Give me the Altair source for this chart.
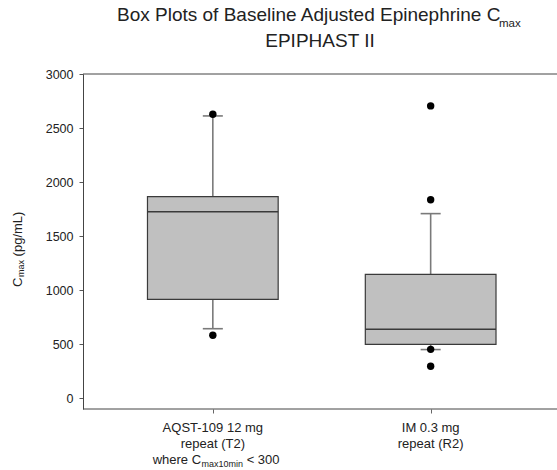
import altair as alt
import pandas as pd

# ---- data ----
groups = ["AQST-109 12 mg", "IM 0.3 mg"]
label_line2 = ["repeat (T2)", "repeat (R2)"]
positions = [1, 2]
q1 = [914, 498]
median = [1726, 637]
q3 = [1865, 1145]
whisker_low = [643, 450]
whisker_high = [2612, 1708]
outlier_pos = [1, 1, 2, 2, 2, 2]
outlier_value = [2628, 582, 2705, 1837, 452, 295]
y_ticks = [0, 500, 1000, 1500, 2000, 2500, 3000]
y_range = [-100, 3000]

box_df = pd.DataFrame({
    "group": groups, "line2": label_line2, "pos": positions,
    "q1": q1, "median": median, "q3": q3,
    "wl": whisker_low, "wh": whisker_high,
})
out_df = pd.DataFrame({"pos": outlier_pos, "value": outlier_value})
frame_df = pd.DataFrame({"v": [y_range[0], y_ticks[-1]]})

FONT = "Liberation Sans"
HALF_BOX = 0.3
HALF_CAP = 0.046

x_scale = alt.Scale(domain=[0.404, 2.58], nice=False, zero=False)
y_scale = alt.Scale(domain=y_range, nice=False, zero=False)

x_axis = alt.Axis(values=positions, labels=False, ticks=True, tickSize=4, tickWidth=1,
                  tickColor="#666", domain=False, grid=False, title=None)
y_axis = alt.Axis(values=y_ticks, format="d", tickSize=4, tickColor="#555", domainColor="#444",
                  labelFont=FONT, labelFontSize=12.5, labelColor="#222",
                  labelPadding=6, grid=False, title=None)


def X(f):
    return alt.X(f, type="quantitative", scale=x_scale, axis=x_axis)


def Y(f):
    return alt.Y(f, type="quantitative", scale=y_scale, axis=y_axis)


base = alt.Chart(box_df).transform_calculate(
    xl=f"datum.pos - {HALF_BOX}", xr=f"datum.pos + {HALF_BOX}",
    cl=f"datum.pos - {HALF_CAP}", cr=f"datum.pos + {HALF_CAP}",
)

whisk_lo = base.mark_rule(color="#7a7a7a", strokeWidth=1.6).encode(
    x=X("pos"), y=Y("wl"), y2="q1")
whisk_hi = base.mark_rule(color="#7a7a7a", strokeWidth=1.6).encode(
    x=X("pos"), y=Y("q3"), y2="wh")
cap_lo = base.mark_rule(color="#7a7a7a", strokeWidth=1.6).encode(
    x=X("cl"), x2="cr", y=Y("wl"))
cap_hi = base.mark_rule(color="#7a7a7a", strokeWidth=1.6).encode(
    x=X("cl"), x2="cr", y=Y("wh"))
box = base.mark_rect(fill="#c0c0c0", stroke="#3a3a3a", strokeWidth=1.2).encode(
    x=X("xl"), x2="xr", y=Y("q1"), y2="q3")
med = base.mark_rule(color="#3a3a3a", strokeWidth=1.5).encode(
    x=X("xl"), x2="xr", y=Y("median"))
dots = alt.Chart(out_df).mark_circle(size=55, color="black", opacity=1).encode(
    x=X("pos"), y=Y("value"))
frame = alt.Chart(frame_df).mark_rule(color="#444", strokeWidth=1).encode(y=Y("v"))

# x-axis category labels
lab1 = base.mark_text(font=FONT, fontSize=13, color="#222", align="center",
                      baseline="alphabetic").encode(
    x=X("pos"), y=alt.value(358), text="group:N")
lab2 = base.mark_text(font=FONT, fontSize=13, color="#222", align="center",
                      baseline="alphabetic").encode(
    x=X("pos"), y=alt.value(374), text="line2:N")
first = base.transform_filter("datum.pos == 1")
lab3a = first.mark_text(font=FONT, fontSize=13, color="#222", align="left",
                        baseline="alphabetic", dx=-60.2).encode(
    x=X("pos"), y=alt.value(390), text=alt.value("where C"))
lab3b = first.mark_text(font=FONT, fontSize=9, color="#222", align="left",
                        baseline="alphabetic", dx=-11.3).encode(
    x=X("pos"), y=alt.value(393), text=alt.value("max10min"))
lab3c = first.mark_text(font=FONT, fontSize=13, color="#222", align="left",
                        baseline="alphabetic", dx=33.8).encode(
    x=X("pos"), y=alt.value(390), text=alt.value("< 300"))

one = alt.Chart(pd.DataFrame({"a": [0]}))


def txt(s, x, y, size, align="left", angle=0):
    kw = dict(font=FONT, fontSize=size, color="#222", align=align, baseline="alphabetic")
    if angle:
        kw["angle"] = angle
    return one.mark_text(**kw).encode(x=alt.value(x), y=alt.value(y), text=alt.value(s))


title1 = txt("Box Plots of Baseline Adjusted Epinephrine C", 34, -53.3, 19)
title1s = txt("max", 416, -47.5, 11.5)
title2 = txt("EPIPHAST II", 237, -26.7, 19, align="center")
ylab1 = txt("C", -61, 213, 13, angle=270)
ylab2 = txt("max", -59, 203, 9, angle=270)
ylab3 = txt("(pg/mL)", -61, 182.4, 13, angle=270)

chart = alt.layer(
    frame, whisk_lo, whisk_hi, box, med, cap_lo, cap_hi, dots,
    lab1, lab2, lab3a, lab3b, lab3c,
    title1, title1s, title2, ylab1, ylab2, ylab3,
).properties(
    width=474, height=335,
    autosize=alt.AutoSizeParams(type="none"),
    padding={"left": 83, "top": 74, "right": 0, "bottom": 61},
    background="white",
).configure_view(stroke=None)

chart.save("out.html", embed_options={"renderer": "svg", "actions": False})
